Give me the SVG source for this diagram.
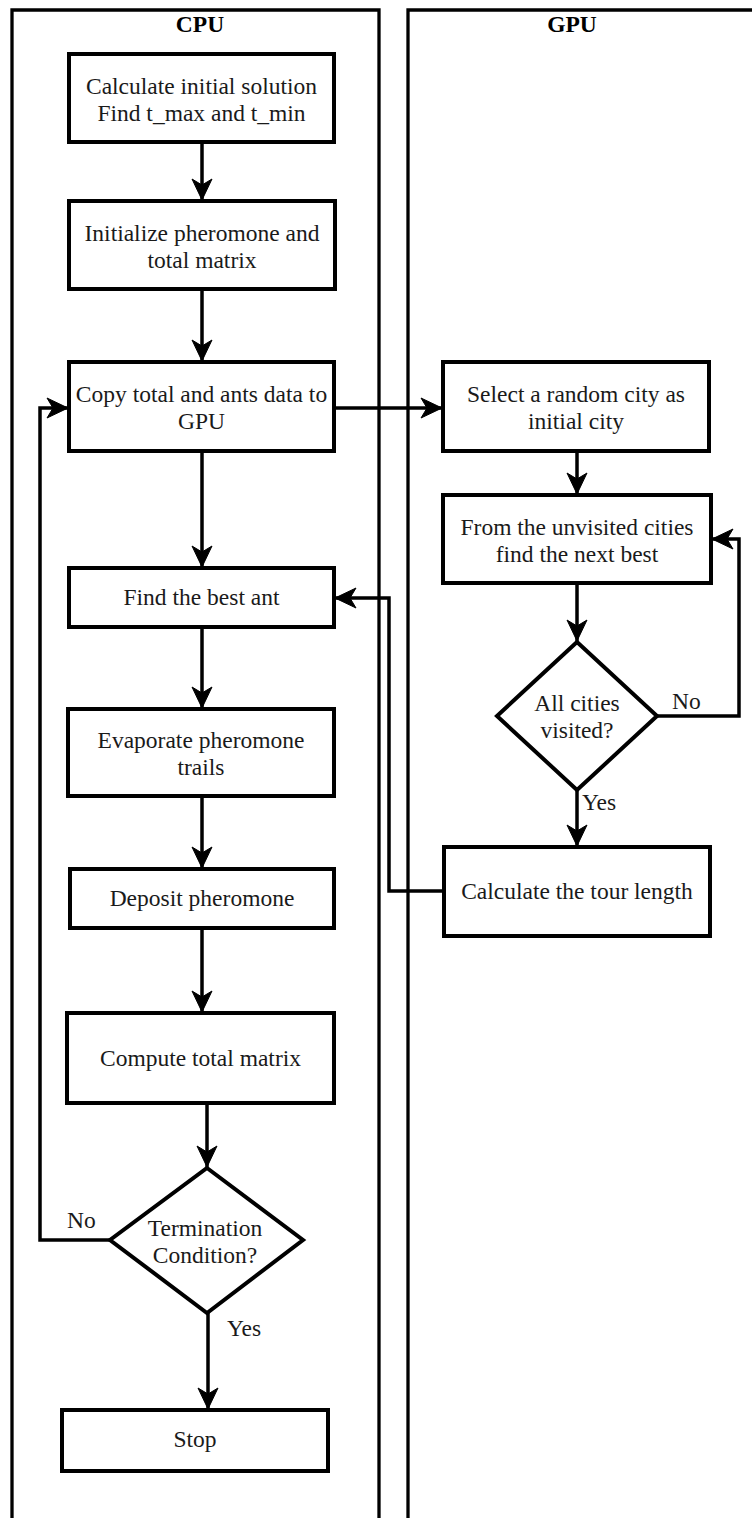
<svg xmlns="http://www.w3.org/2000/svg" width="752" height="1518" viewBox="0 0 752 1518">
  <style>
    .lane { fill: none; stroke: #000; stroke-width: 3.3; }
    .box { fill: #fff; stroke: #000; stroke-width: 4; }
    .edge { fill: none; stroke: #000; stroke-width: 3.5; }
    .t { font-family: "Liberation Serif", "Times New Roman", serif; font-size: 23.5px; fill: #1a1a1a; text-anchor: middle; }
    .h { font-family: "Liberation Serif", "Times New Roman", serif; font-size: 23.5px; font-weight: bold; fill: #000; text-anchor: middle; }
    .lbl { font-family: "Liberation Serif", "Times New Roman", serif; font-size: 23.5px; fill: #1a1a1a; }
  </style>
  <defs>
    <marker id="arrow" markerUnits="userSpaceOnUse" markerWidth="26" markerHeight="26" viewBox="-23 -13 26 26" refX="0" refY="0" orient="auto">
      <path d="M0,0 L-21,-10 L-15,0 L-21,10 Z" fill="#000" stroke="#000" stroke-width="1" stroke-linejoin="miter"/>
    </marker>
  </defs>
  <rect width="752" height="1518" fill="#fff"/>

  <!-- swimlanes -->
  <g id="lane-cpu">
    <path class="lane" d="M12,1522 V10 H379 V1522"/>
    <text class="h" x="200" y="32">CPU</text>
  </g>
  <g id="lane-gpu">
    <path class="lane" d="M408,1522 V10 H760"/>
    <text class="h" x="572" y="32">GPU</text>
  </g>

  <!-- connectors -->
  <g id="connectors">
    <path class="edge" d="M202,142 V200" marker-end="url(#arrow)"/>
    <path class="edge" d="M202,289 V361" marker-end="url(#arrow)"/>
    <path class="edge" d="M202,451 V567" marker-end="url(#arrow)"/>
    <path class="edge" d="M202,627 V708" marker-end="url(#arrow)"/>
    <path class="edge" d="M202,796 V868" marker-end="url(#arrow)"/>
    <path class="edge" d="M202,928 V1012" marker-end="url(#arrow)"/>
    <path class="edge" d="M207,1103 V1167" marker-end="url(#arrow)"/>
    <path class="edge" d="M208,1313 V1409" marker-end="url(#arrow)"/>
    <path class="edge" d="M110,1240 H40 V408 H68" marker-end="url(#arrow)"/>
    <path class="edge" d="M334,408 H442" marker-end="url(#arrow)"/>
    <path class="edge" d="M577,451 V494" marker-end="url(#arrow)"/>
    <path class="edge" d="M577,583 V641" marker-end="url(#arrow)"/>
    <path class="edge" d="M657,716 H739 V539 H712" marker-end="url(#arrow)"/>
    <path class="edge" d="M577,790 V846" marker-end="url(#arrow)"/>
    <path class="edge" d="M444,891 H389 V598 H335" marker-end="url(#arrow)"/>
    <text class="lbl" x="67" y="1228">No</text>
    <text class="lbl" x="227" y="1336">Yes</text>
    <text class="lbl" x="672" y="709">No</text>
    <text class="lbl" x="582" y="810">Yes</text>
  </g>

  <!-- CPU steps -->
  <g id="calc-initial">
    <rect class="box" x="69" y="54" width="265" height="88"/>
    <text class="t" x="201.5" y="94">Calculate initial solution</text>
    <text class="t" x="201.5" y="121">Find t_max and t_min</text>
  </g>
  <g id="init-pheromone">
    <rect class="box" x="69" y="201" width="266" height="88"/>
    <text class="t" x="202" y="240.5">Initialize pheromone and</text>
    <text class="t" x="202" y="267.5">total matrix</text>
  </g>
  <g id="copy-to-gpu">
    <rect class="box" x="69" y="362" width="265" height="89"/>
    <text class="t" x="201.5" y="402">Copy total and ants data to</text>
    <text class="t" x="201.5" y="429">GPU</text>
  </g>
  <g id="find-best-ant">
    <rect class="box" x="69" y="568" width="265" height="59"/>
    <text class="t" x="201.5" y="605">Find the best ant</text>
  </g>
  <g id="evaporate">
    <rect class="box" x="68" y="709" width="266" height="87"/>
    <text class="t" x="201" y="748">Evaporate pheromone</text>
    <text class="t" x="201" y="775">trails</text>
  </g>
  <g id="deposit">
    <rect class="box" x="70" y="869" width="264" height="59"/>
    <text class="t" x="202" y="906">Deposit pheromone</text>
  </g>
  <g id="compute-total">
    <rect class="box" x="67" y="1013" width="267" height="90"/>
    <text class="t" x="200.5" y="1066">Compute total matrix</text>
  </g>
  <g id="termination">
    <polygon class="box" points="207,1168 303,1240 207,1313 110,1240"/>
    <text class="t" x="205" y="1236">Termination</text>
    <text class="t" x="205" y="1263">Condition?</text>
  </g>
  <g id="stop">
    <rect class="box" x="62" y="1410" width="266" height="61"/>
    <text class="t" x="195" y="1447">Stop</text>
  </g>

  <!-- GPU steps -->
  <g id="random-city">
    <rect class="box" x="443" y="362" width="266" height="89"/>
    <text class="t" x="576" y="402">Select a random city as</text>
    <text class="t" x="576" y="429">initial city</text>
  </g>
  <g id="next-best">
    <rect class="box" x="443" y="495" width="268" height="88"/>
    <text class="t" x="577" y="534.5">From the unvisited cities</text>
    <text class="t" x="577" y="561.5">find the next best</text>
  </g>
  <g id="all-visited">
    <polygon class="box" points="577,642 657,716 577,790 497,716"/>
    <text class="t" x="577" y="711">All cities</text>
    <text class="t" x="577" y="738">visited?</text>
  </g>
  <g id="tour-length">
    <rect class="box" x="444" y="847" width="266" height="89"/>
    <text class="t" x="577" y="899">Calculate the tour length</text>
  </g>
</svg>
